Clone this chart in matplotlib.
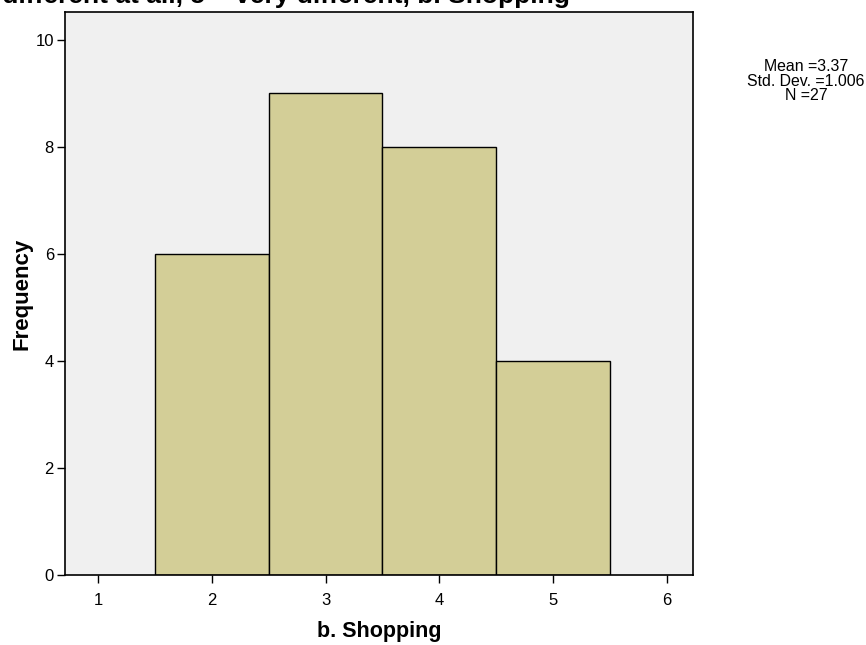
import numpy as np
import matplotlib.pyplot as plt

plt.rcParams['font.family'] = ['Liberation Sans', 'DejaVu Sans']

# histogram data (bin centres and counts)
scores = [2, 3, 4, 5]
counts = [6, 9, 8, 4]
xticks = [1, 2, 3, 4, 5, 6]
yticks = [0, 2, 4, 6, 8, 10]

fig = plt.figure(figsize=(8.66, 6.45), dpi=100)
ax = fig.add_axes([65/866, 1-575/645, (693-65)/866, (575-12)/645])
ax.set_facecolor('#f0f0f0')

ax.bar(scores, counts, width=1.0, color='#d3ce97', edgecolor='black', linewidth=1.0)

ax.set_xlim(0.71, 6.23)
ax.set_ylim(0, 10.52)
ax.set_xticks(xticks)
ax.set_yticks(yticks)
ax.tick_params(axis='both', direction='out', length=6, width=1, labelsize=12, color='black')
ax.tick_params(axis='x', pad=7)
ax.tick_params(axis='y', pad=2)
for s in ax.spines.values():
    s.set_linewidth(1.2)

ax.set_xlabel('b. Shopping', fontsize=15.5, fontweight='bold', labelpad=9)
ax.set_ylabel('Frequency', fontsize=16, fontweight='bold', labelpad=2)

# clipped title at the very top
fig.text(570/866, 1-3/645, 'How different: 1 = not different at all, 5 = very different, b. Shopping',
         ha='right', va='baseline', fontsize=19, fontweight='bold')

fig.text(806/866, 1-81/645, 'Mean =3.37\nStd. Dev. =1.006\nN =27',
         ha='center', va='center', fontsize=11.4, linespacing=0.92)

fig.savefig('out.png', dpi=100)
